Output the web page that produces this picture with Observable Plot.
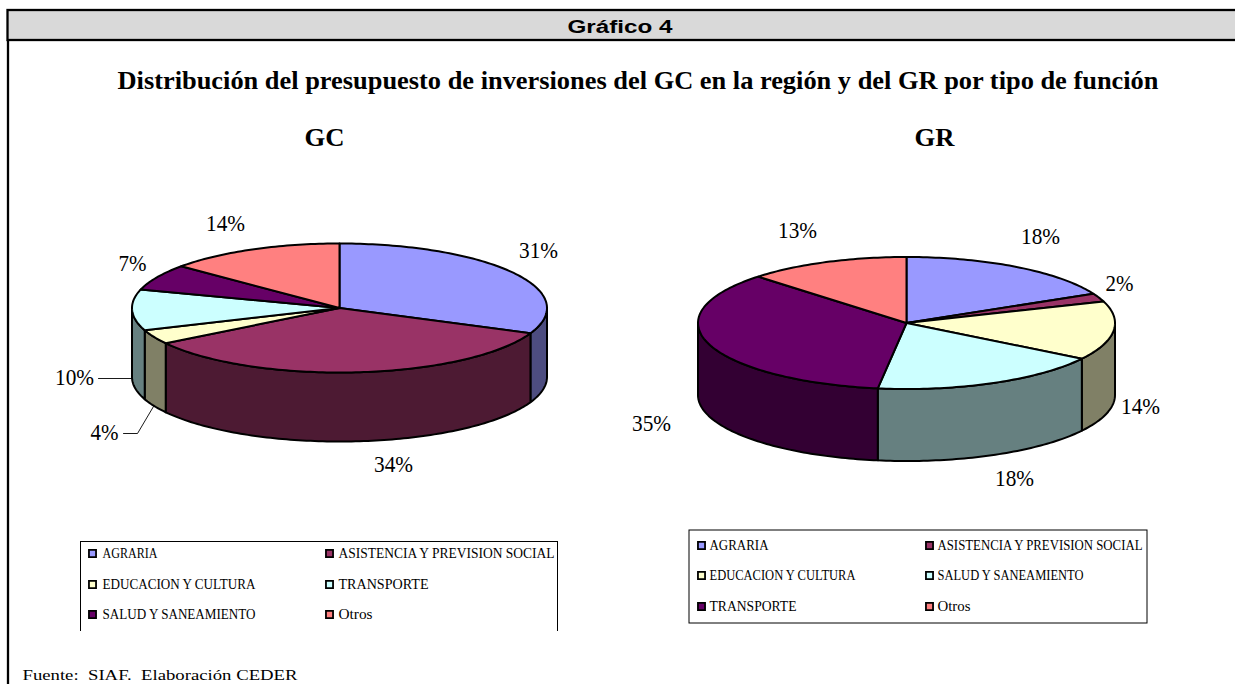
<!DOCTYPE html>
<html><head><meta charset="utf-8">
<script src="https://cdn.jsdelivr.net/npm/d3@7"></script>
<script src="https://cdn.jsdelivr.net/npm/@observablehq/plot@0.6"></script>
<style>html,body{margin:0;padding:0;background:#fff;overflow:hidden}svg{display:block}</style>
</head><body><div id="chart"></div>
<script>
// ---- data ----
const gcCategories = ["AGRARIA","ASISTENCIA Y PREVISION SOCIAL","EDUCACION Y CULTURA","TRANSPORTE","SALUD Y SANEAMIENTO","Otros"];
const gcValues = [31.4,34.4,3.6,10.2,6.6,13.8];
const grCategories = ["AGRARIA","ASISTENCIA Y PREVISION SOCIAL","EDUCACION Y CULTURA","SALUD Y SANEAMIENTO","TRANSPORTE","Otros"];
const grValues = [17.7,2.0,14.4,18.1,35.2,12.6];
const topColors = ["#9999ff","#993366","#ffffcc","#ccffff","#660066","#ff8080"];
const sideColors = ["#4d4d80","#4d1a33","#808066","#668080","#330033","#804040"];
const chartHeader = "Gráfico 4";
const chartTitle = "Distribución del presupuesto de inversiones del GC en la región y del GR por tipo de función";
const chartSource = "Fuente:  SIAF.  Elaboración CEDER";

// ---- layout ----
const W = 1235, H = 684;
const pies = [
  {name:"GC", cats:gcCategories, vals:gcValues, cx:339, cy:307.5, rx:207.5, ry:64.5, depth:69, tx:324,
   labels:[[538,250],[393,464],[104,432],[74,377],[132,263],[225,223]],
   legend:{x0:80,x1:557,y0:541,y1:631,closed:false,rows:[553,584,614],sw:[92,329],tx:[102,338],
           widths:[55,216,153,90,153,34]}},
  {name:"GR", cats:grCategories, vals:grValues, cx:906, cy:322.5, rx:208.5, ry:66, depth:72, tx:934,
   labels:[[1040,236],[1119,283],[1140,406],[1014,478],[651,423],[797,230]],
   legend:{x0:689,x1:1147,y0:530,y1:623,closed:true,rows:[545,575,606],sw:[701,929],tx:[709,937],
           widths:[59,205,146,146,87,33]}}
];
const leaders = [
  [{x:98,y:378},{x:131,y:378}],
  [{x:123,y:433},{x:137,y:433},{x:153,y:406}]
];

// ---- geometry built from the values ----
const sidesOut = [], topsOut = [], texts = [], sw = [], legendLines = [];
const fitWidths = new Map();
const addFit = (t,w)=>{ if(!fitWidths.has(t)) fitWidths.set(t,[]); fitWidths.get(t).push(w); };
function pt(p,a,dz=0){return {x:p.cx+p.rx*Math.sin(a), y:p.cy-p.ry*Math.cos(a)+dz};}
function arc(p,a0,a1,dz=0){const n=Math.max(2,Math.ceil((a1-a0)/0.02));return d3.range(n+1).map(i=>pt(p,a0+(a1-a0)*i/n,dz));}
pies.forEach(p=>{
  const total=d3.sum(p.vals); let acc=0;
  p.vals.forEach((v,i)=>{
    const a0=acc/total*2*Math.PI; acc+=v; const a1=acc/total*2*Math.PI;
    const key=p.name+i;
    const s0=Math.max(a0,Math.PI/2), s1=Math.min(a1,3*Math.PI/2);
    if(s1>s0){
      const ring=[...arc(p,s0,s1),...arc(p,s0,s1,p.depth).reverse()];
      ring.push(ring[0]);
      ring.forEach(q=>sidesOut.push({...q,key:"w"+key,fill:sideColors[i]}));
    }
    const ring=[{x:p.cx,y:p.cy},...arc(p,a0,a1),{x:p.cx,y:p.cy}];
    ring.forEach(q=>topsOut.push({...q,key:"t"+key,fill:topColors[i]}));
    const [lx,ly]=p.labels[i];
    const t=Math.round(v)+"%";
    texts.push({x:lx,y:ly,t});
    const col=i%2,row=Math.floor(i/2);
    sw.push({x:p.legend.sw[col],y:p.legend.rows[row],fill:topColors[i]});
    legendLines.push({x:p.legend.tx[col],y:p.legend.rows[row],t:p.cats[i]});
    addFit(p.cats[i],p.legend.widths[i]);
  });
});
texts.forEach(d=>addFit(d.t,d.t.length>2?39:28));
addFit(chartHeader,105); addFit(chartTitle,1041); addFit(chartSource,275);
addFit("GC",40); addFit("GR",40);
const legendBoxes = pies.map(p=>p.legend);

const plot = Plot.plot({
  width:W,height:H,margin:0,
  x:{domain:[0,W],range:[0,W],axis:null},
  y:{domain:[0,H],range:[0,H],axis:null},
  color:{type:"identity"},
  marks:[
    Plot.rect([{x1:7.5,x2:W+6,y1:10,y2:40}],{x1:"x1",x2:"x2",y1:"y1",y2:"y2",fill:"#d9d9d9",stroke:"#000",strokeWidth:2.3}),
    Plot.ruleX([7.5],{y1:40,y2:H,stroke:"#000",strokeWidth:2.3}),
    Plot.text([chartHeader],{x:619.5,y:27,fontFamily:"Liberation Sans",fontWeight:"bold",fontSize:18,fill:"#000"}),
    Plot.text([chartTitle],{x:637.5,y:80,fontFamily:"Liberation Serif",fontWeight:"bold",fontSize:25,fill:"#000"}),
    Plot.text(pies,{x:"tx",y:137,text:"name",fontFamily:"Liberation Serif",fontWeight:"bold",fontSize:25,fill:"#000"}),
    Plot.line(sidesOut,{x:"x",y:"y",z:"key",fill:"fill",stroke:"#000",strokeWidth:2,strokeLinejoin:"round"}),
    Plot.line(topsOut,{x:"x",y:"y",z:"key",fill:"fill",stroke:"#000",strokeWidth:2,strokeLinejoin:"round"}),
    ...leaders.map(l=>Plot.line(l,{x:"x",y:"y",stroke:"#000",strokeWidth:0.9})),
    Plot.text(texts,{x:"x",y:"y",text:"t",fontFamily:"Liberation Serif",fontSize:24,fill:"#000"}),
    Plot.rect(legendBoxes.filter(d=>d.closed),{x1:"x0",x2:"x1",y1:"y0",y2:"y1",fill:"none",stroke:"#000",strokeWidth:1}),
    Plot.ruleY(legendBoxes.filter(d=>!d.closed),{y:"y0",x1:"x0",x2:"x1",stroke:"#000",strokeWidth:1}),
    Plot.ruleX(legendBoxes.filter(d=>!d.closed).flatMap(d=>[{x:d.x0,y0:d.y0,y1:d.y1},{x:d.x1,y0:d.y0,y1:d.y1}]),{x:"x",y1:"y0",y2:"y1",stroke:"#000",strokeWidth:1}),
    Plot.dot(sw,{x:"x",y:"y",symbol:"square",r:4,fill:"fill",stroke:"#000",strokeWidth:1.8}),
    Plot.text(legendLines,{x:"x",y:"y",text:"t",textAnchor:"start",fontFamily:"Liberation Serif",fontSize:14,fill:"#000"}),
    Plot.text([chartSource],{x:22,y:675,textAnchor:"start",fontFamily:"Liberation Serif",fontSize:15.5,fill:"#000",style:{whiteSpace:"pre"}})
  ]
});
// the reference's glyphs are stretched: fit each text to the width it has there
d3.select(plot).selectAll("text").each(function(){
  const q=fitWidths.get(this.textContent);
  if(q&&q.length){const w=q.shift();this.setAttribute("textLength",w);this.setAttribute("lengthAdjust","spacingAndGlyphs");}
});
document.getElementById("chart").append(plot);
</script></body></html>
